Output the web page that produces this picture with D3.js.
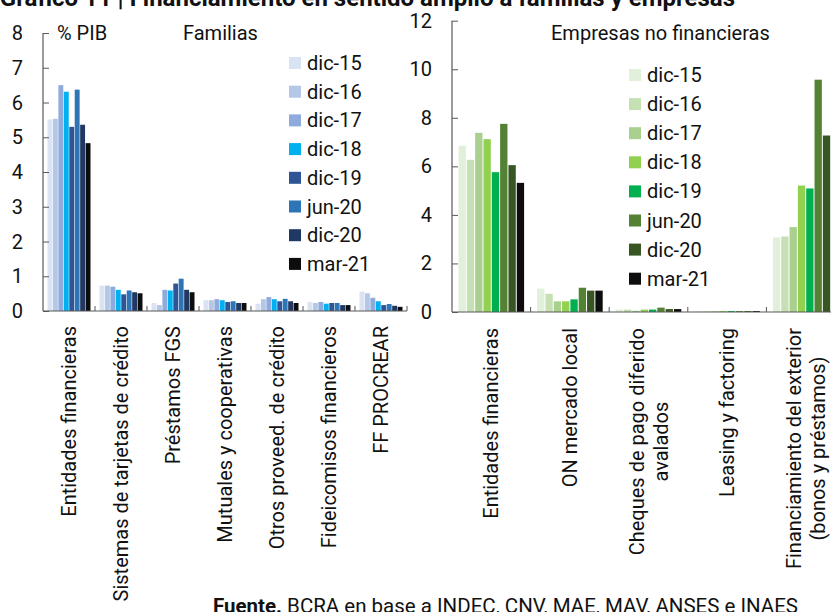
<!DOCTYPE html>
<html>
<head>
<meta charset="utf-8">
<script src="https://cdn.jsdelivr.net/npm/d3@7"></script>
<style>
  body { margin: 0; background: #fff; }
  svg { display: block; font-family: Roboto, "Noto Sans", sans-serif; }
</style>
</head>
<body>
<svg id="chart" width="831" height="612"></svg>
<script>
// series (fechas)
var periods = ["dic-15", "dic-16", "dic-17", "dic-18", "dic-19", "jun-20", "dic-20", "mar-21"];

// Familias, % PIB
var famCategories = ["Entidades financieras", "Sistemas de tarjetas de crédito", "Préstamos FGS",
    "Mutuales y cooperativas", "Otros proveed. de crédito", "Fideicomisos financieros", "FF PROCREAR"];
var famValues = [
    [5.51, 5.53, 6.50, 6.31, 5.30, 6.37, 5.36, 4.83],
    [0.73, 0.73, 0.70, 0.61, 0.48, 0.59, 0.54, 0.51],
    [0.23, 0.17, 0.61, 0.59, 0.79, 0.93, 0.61, 0.54],
    [0.31, 0.31, 0.34, 0.31, 0.26, 0.28, 0.23, 0.23],
    [0.21, 0.34, 0.40, 0.34, 0.28, 0.35, 0.28, 0.23],
    [0.26, 0.23, 0.26, 0.21, 0.23, 0.23, 0.17, 0.17],
    [0.56, 0.51, 0.38, 0.28, 0.17, 0.20, 0.15, 0.12]
];
var famTicks = [0, 1, 2, 3, 4, 5, 6, 7, 8];
var famColors = ["#dae3f3", "#b4c7e7", "#8faadc", "#00b0f0", "#2f5597", "#2e75b6", "#203864", "#0d0d0d"];

// Empresas no financieras, % PIB
var empCategories = ["Entidades financieras", "ON mercado local", "Cheques de pago diferido\navalados",
    "Leasing y factoring", "Financiamiento del exterior\n(bonos y préstamos)"];
var empValues = [
    [6.85, 6.27, 7.38, 7.12, 5.76, 7.75, 6.05, 5.32],
    [0.96, 0.75, 0.44, 0.44, 0.52, 1.00, 0.88, 0.88],
    [0.10, 0.10, 0.05, 0.10, 0.10, 0.18, 0.12, 0.12],
    [0.03, 0.03, 0.03, 0.04, 0.04, 0.04, 0.04, 0.04],
    [3.07, 3.11, 3.50, 5.21, 5.09, 9.57, 7.27, 7.00]
];
var empTicks = [0, 2, 4, 6, 8, 10, 12];
var empColors = ["#e2efda", "#c6e0b4", "#a9d08e", "#92d050", "#00b050", "#548235", "#375623", "#0d0d0d"];

var svg = d3.select("#chart");
var axisColor = "#595959";
var fontSize = 20;

function drawPanel(opt) {
    var g = svg.append("g");

    var x = d3.scaleBand().domain(opt.categories).range([opt.left, opt.right]);
    var xs = d3.scaleBand().domain(periods)
        .range([opt.inset, x.bandwidth() - opt.inset]).paddingInner(opt.barPad);
    var y = d3.scaleLinear().domain([0, opt.max]).range([opt.bottom, opt.top]);

    // bars
    opt.categories.forEach(function (cat, ci) {
        g.selectAll(null).data(opt.values[ci]).enter().append("rect")
            .attr("x", function (d, i) { return x(cat) + xs(periods[i]); })
            .attr("y", function (d) { return y(d); })
            .attr("width", xs.bandwidth())
            .attr("height", function (d) { return opt.bottom - y(d); })
            .attr("fill", function (d, i) { return opt.colors[i]; });
    });

    // y axis
    var yAxis = g.append("g")
        .attr("transform", "translate(" + opt.left + ",0)")
        .call(d3.axisRight(y).tickValues(opt.ticks).tickSize(6).tickFormat(""));
    yAxis.select(".domain").remove();
    yAxis.selectAll(".tick line").attr("stroke", axisColor);
    g.append("line")
        .attr("x1", opt.left).attr("x2", opt.left)
        .attr("y1", opt.top).attr("y2", opt.bottom)
        .attr("stroke", axisColor).attr("stroke-width", 1.2);
    g.selectAll(null).data(opt.ticks).enter().append("text")
        .attr("x", opt.labelX)
        .attr("y", function (d) { return y(d); })
        .attr("text-anchor", "end")
        .attr("dominant-baseline", "central")
        .attr("font-size", fontSize)
        .attr("fill", "#111")
        .text(function (d) { return d; });

    // x axis, ticks at category boundaries pointing up
    g.append("line")
        .attr("x1", opt.left).attr("x2", opt.right)
        .attr("y1", opt.bottom).attr("y2", opt.bottom)
        .attr("stroke", axisColor).attr("stroke-width", 1.2);
    var bounds = opt.categories.map(function (c) { return x(c); }).concat([opt.right]);
    g.selectAll(null).data(bounds.slice(1)).enter().append("line")
        .attr("x1", function (d) { return d; }).attr("x2", function (d) { return d; })
        .attr("y1", opt.bottom).attr("y2", opt.bottom - 5)
        .attr("stroke", axisColor);

    // category labels, rotated; multi-line labels centred on their longest line
    opt.categories.forEach(function (cat) {
        var lines = cat.split("\n");
        var lg = g.append("g")
            .attr("transform", "translate(" + (x(cat) + x.bandwidth() / 2) + "," + opt.labelTop + ") rotate(-90)");
        var texts = lg.selectAll(null).data(lines).enter().append("text")
            .attr("y", function (d, i) { return (i - (lines.length - 1) / 2) * 24; })
            .attr("dominant-baseline", "central")
            .attr("font-size", fontSize)
            .attr("fill", "#111")
            .text(function (d) { return d; });
        var maxLen = d3.max(texts.nodes(), function (n) { return n.getComputedTextLength(); });
        texts.attr("x", -maxLen / 2).attr("text-anchor", "middle");
    });

    // legend
    var lgd = g.append("g");
    periods.forEach(function (p, i) {
        var cy = opt.legendY + i * opt.legendStep;
        lgd.append("rect")
            .attr("x", opt.legendX).attr("y", cy - 6)
            .attr("width", 12).attr("height", 12)
            .attr("fill", opt.colors[i]);
        lgd.append("text")
            .attr("x", opt.legendX + 18).attr("y", cy)
            .attr("dominant-baseline", "central")
            .attr("font-size", fontSize)
            .attr("fill", "#111")
            .text(p);
    });

    g.append("text")
        .attr("x", opt.titleX).attr("y", opt.titleY)
        .attr("dominant-baseline", "central")
        .attr("font-size", fontSize)
        .attr("fill", "#111")
        .text(opt.title);
}

drawPanel({
    categories: famCategories, values: famValues, colors: famColors, ticks: famTicks, max: 8,
    left: 43, right: 407, top: 33, bottom: 311, inset: 4.5, barPad: 0.1,
    labelX: 23, labelTop: 326,
    legendX: 289, legendY: 63, legendStep: 28.7,
    title: "Familias", titleX: 183, titleY: 33
});

drawPanel({
    categories: empCategories, values: empValues, colors: empColors, ticks: empTicks, max: 12,
    left: 452, right: 845, top: 20.7, bottom: 312, inset: 6.5, barPad: 0.12,
    labelX: 432, labelTop: 328,
    legendX: 629, legendY: 75, legendStep: 29.1,
    title: "Empresas no financieras", titleX: 551, titleY: 33
});

svg.append("text")
    .attr("x", 57).attr("y", 33)
    .attr("dominant-baseline", "central")
    .attr("font-size", fontSize)
    .attr("fill", "#111")
    .text("% PIB");

// title (cut at the top edge, as in the source image) and source
svg.append("text")
    .attr("x", 735).attr("y", 5.5)
    .attr("text-anchor", "end")
    .attr("font-size", 24).attr("font-weight", "bold")
    .attr("fill", "#111")
    .text("Gráfico 11 | Financiamiento en sentido amplio a familias y empresas");

var src = svg.append("text")
    .attr("x", 213).attr("y", 613)
    .attr("font-size", 20.5)
    .attr("fill", "#111");
src.append("tspan").attr("font-weight", "bold").text("Fuente.");
src.append("tspan").text(" BCRA en base a INDEC, CNV, MAE, MAV, ANSES e INAES");
</script>
</body>
</html>
